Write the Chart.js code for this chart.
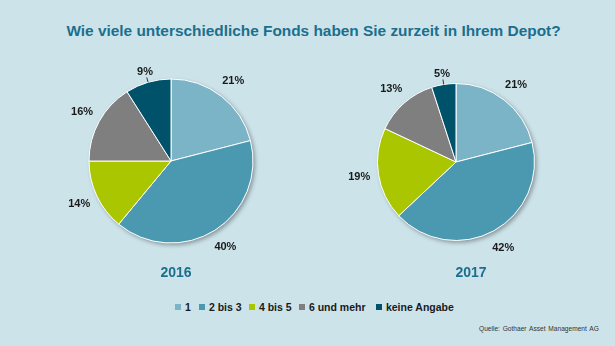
<!DOCTYPE html>
<html><head><meta charset="utf-8">
<script src="https://cdn.jsdelivr.net/npm/chart.js@4.4.1/dist/chart.umd.min.js"></script>
<style>
html,body{margin:0;padding:0;}
#wrap{position:relative;width:615px;height:346px;background:#cce3ea;overflow:hidden;font-family:"Liberation Sans",Arial,sans-serif;}
#title{position:absolute;left:6px;width:615px;top:22px;text-align:center;font-weight:bold;font-size:15.4px;color:#1b6f8d;white-space:nowrap;}
.year{position:absolute;top:264px;font-weight:bold;font-size:14px;color:#1b6f8d;width:80px;text-align:center;}
canvas{position:absolute;}
.leg{position:absolute;top:301px;font-weight:bold;font-size:10.5px;color:#1a1a1a;white-space:nowrap;}
.leg i{display:inline-block;width:6px;height:6px;margin-right:1px;vertical-align:1px;}
#src{position:absolute;left:479px;top:325px;font-size:6.6px;color:#333;white-space:nowrap;word-spacing:1px;}
</style></head>
<body>
<div id="wrap">
  <div id="title">Wie viele unterschiedliche Fonds haben Sie zurzeit in Ihrem Depot?</div>
  <canvas id="c1" width="240" height="240" style="left:51px;top:41px;width:240px;height:240px"></canvas>
  <canvas id="c2" width="240" height="240" style="left:335.5px;top:41.5px;width:240px;height:240px"></canvas>
  <div class="year" style="left:136px">2016</div>
  <div class="year" style="left:431px">2017</div>
  <div id="legend"></div>
  <div id="src">Quelle: Gothaer Asset Management AG</div>
</div>
<script>
const categories = ["1", "2 bis 3", "4 bis 5", "6 und mehr", "keine Angabe"];
const years = ["2016", "2017"];
const values2016 = [21, 40, 14, 16, 9];
const values2017 = [21, 42, 19, 13, 5];
const colors = ["#7bb4c6", "#4a99b0", "#a9c601", "#7f7f7f", "#00526a"];

// legend
const legX = [175, 199, 249, 299, 376];
const legEl = document.getElementById('legend');
categories.forEach((c, i) => {
  const d = document.createElement('div');
  d.className = 'leg';
  d.style.left = legX[i] + 'px';
  d.innerHTML = '<i style="background:' + colors[i] + '"></i> ' + c;
  legEl.appendChild(d);
});

const shadowPlugin = {
  id: 'shadowPlugin',
  beforeDatasetsDraw(chart) {
    const arc = chart.getDatasetMeta(0).data[0];
    if (!arc) return;
    const ctx = chart.ctx;
    ctx.save();
    ctx.shadowColor = 'rgba(0,0,0,0.35)';
    ctx.shadowBlur = 4;
    ctx.shadowOffsetX = 2;
    ctx.shadowOffsetY = 2;
    ctx.fillStyle = '#cce3ea';
    ctx.beginPath();
    ctx.arc(arc.x, arc.y, arc.outerRadius, 0, Math.PI * 2);
    ctx.fill();
    ctx.restore();
  }
};

const labelPlugin = {
  id: 'labelPlugin',
  afterDatasetsDraw(chart) {
    const ctx = chart.ctx;
    const meta = chart.getDatasetMeta(0);
    const vals = chart.data.datasets[0].data;
    ctx.save();
    ctx.font = 'bold 11px "Liberation Sans", Arial, sans-serif';
    ctx.fillStyle = '#1a1a1a';
    ctx.textAlign = 'center';
    ctx.textBaseline = 'middle';
    meta.data.forEach((arc, i) => {
      const mid = (arc.startAngle + arc.endAngle) / 2;
      const r = arc.outerRadius;
      const small = vals[i] < 10;
      const d = small ? r + 11 : r + 19.5;
      const x = arc.x + Math.cos(mid) * d;
      const y = arc.y + Math.sin(mid) * d;
      if (small) {
        ctx.strokeStyle = '#333';
        ctx.lineWidth = 1;
        ctx.beginPath();
        ctx.moveTo(arc.x + Math.cos(mid) * r, arc.y + Math.sin(mid) * r);
        ctx.lineTo(arc.x + Math.cos(mid) * (d - 6), arc.y + Math.sin(mid) * (d - 6));
        ctx.stroke();
      }
      ctx.fillText(vals[i] + '%', x, y);
    });
    ctx.restore();
  }
};

function makePie(id, data, radius) {
  return new Chart(document.getElementById(id), {
    type: 'pie',
    data: {
      labels: categories,
      datasets: [{ data: data, backgroundColor: colors, borderColor: '#ffffff', borderWidth: 1 }]
    },
    options: {
      responsive: false,
      animation: false,
      radius: radius,
      plugins: { legend: { display: false }, tooltip: { enabled: false } }
    },
    plugins: [shadowPlugin, labelPlugin]
  });
}
makePie('c1', values2016, 82);
makePie('c2', values2017, 78.5);
</script>
</body></html>
